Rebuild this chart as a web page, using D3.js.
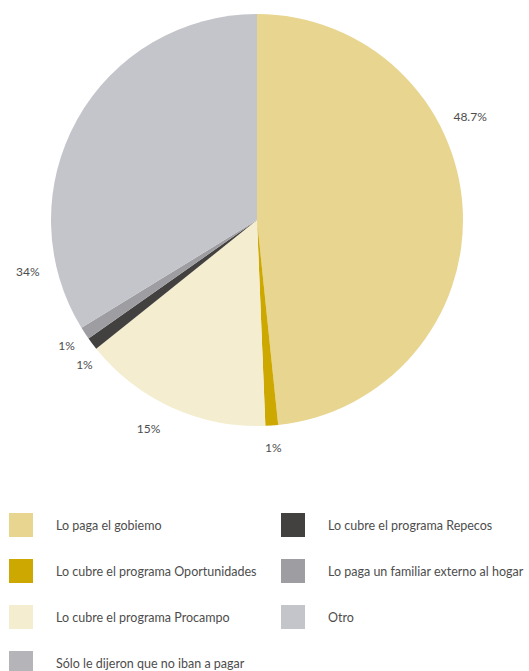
<!DOCTYPE html>
<html>
<head>
<meta charset="utf-8">
<script src="https://cdn.jsdelivr.net/npm/d3@7"></script>
<style>
  html, body { margin: 0; padding: 0; background: #fff; }
  svg { display: block; }
  text { font-family: Lato, "Open Sans", sans-serif; fill: #4d4d4d; }
</style>
</head>
<body>
<svg id="chart" width="529" height="671"></svg>
<script>
const categories = [
  "Lo paga el gobiemo",
  "Lo cubre el programa Oportunidades",
  "Lo cubre el programa Procampo",
  "Lo cubre el programa Repecos",
  "Lo paga un familiar externo al hogar",
  "Otro",
  "Sólo le dijeron que no iban a pagar"
];
const values = [48.7, 1, 15, 1, 1, 34, 0];
const valueLabels = ["48.7%", "1%", "15%", "1%", "1%", "34%", ""];
const colors = ["#E8D590", "#CDA800", "#F4EDCF", "#43413F", "#9E9DA1", "#C4C5CA", "#B4B4B9"];

// layout (not data)
const layout = {
  cx: 257, cy: 220, r: 206,
  labelR: [237, 228, 235, 225, 228, 235, 230],
  labelShiftDeg: [-23, 0, 3, -3, 0, -42, 0],
  legendOrder: [0, 1, 2, 6, 3, 4, 5],
  legendCols: [{x: 9, rows: 4}, {x: 281, rows: 3}],
  legendTop: 513, legendStep: 46, sw: 24
};

const svg = d3.select("#chart");
const g = svg.append("g").attr("transform", `translate(${layout.cx},${layout.cy})`);

const pie = d3.pie().value(d => d).sort(null);
const arcs = pie(values);
const arc = d3.arc().innerRadius(0).outerRadius(layout.r);

g.selectAll("path.slice")
  .data(arcs)
  .join("path")
  .attr("class", "slice")
  .attr("d", arc)
  .attr("fill", (d, i) => colors[i]);

g.selectAll("text.lbl")
  .data(arcs)
  .join("text")
  .attr("class", "lbl")
  .attr("x", (d, i) => {
    const a = (d.startAngle + d.endAngle) / 2 + layout.labelShiftDeg[i] * Math.PI / 180;
    return layout.labelR[i] * Math.sin(a);
  })
  .attr("y", (d, i) => {
    const a = (d.startAngle + d.endAngle) / 2 + layout.labelShiftDeg[i] * Math.PI / 180;
    return -layout.labelR[i] * Math.cos(a);
  })
  .attr("text-anchor", "middle")
  .attr("dominant-baseline", "central")
  .attr("font-size", 12)
  .text((d, i) => valueLabels[i]);

// legend
const legend = svg.append("g");
const items = [];
let k = 0;
layout.legendCols.forEach(col => {
  for (let r = 0; r < col.rows; r++) {
    const idx = layout.legendOrder[k++];
    items.push({idx, x: col.x, y: layout.legendTop + r * layout.legendStep});
  }
});
const li = legend.selectAll("g.item").data(items).join("g").attr("class", "item")
  .attr("transform", d => `translate(${d.x},${d.y})`);
li.append("rect").attr("width", layout.sw).attr("height", layout.sw)
  .attr("fill", d => colors[d.idx]);
li.append("text").attr("x", 47).attr("y", layout.sw / 2)
  .attr("dominant-baseline", "central")
  .attr("font-size", 12.5)
  .text(d => categories[d.idx]);
</script>
</body>
</html>
